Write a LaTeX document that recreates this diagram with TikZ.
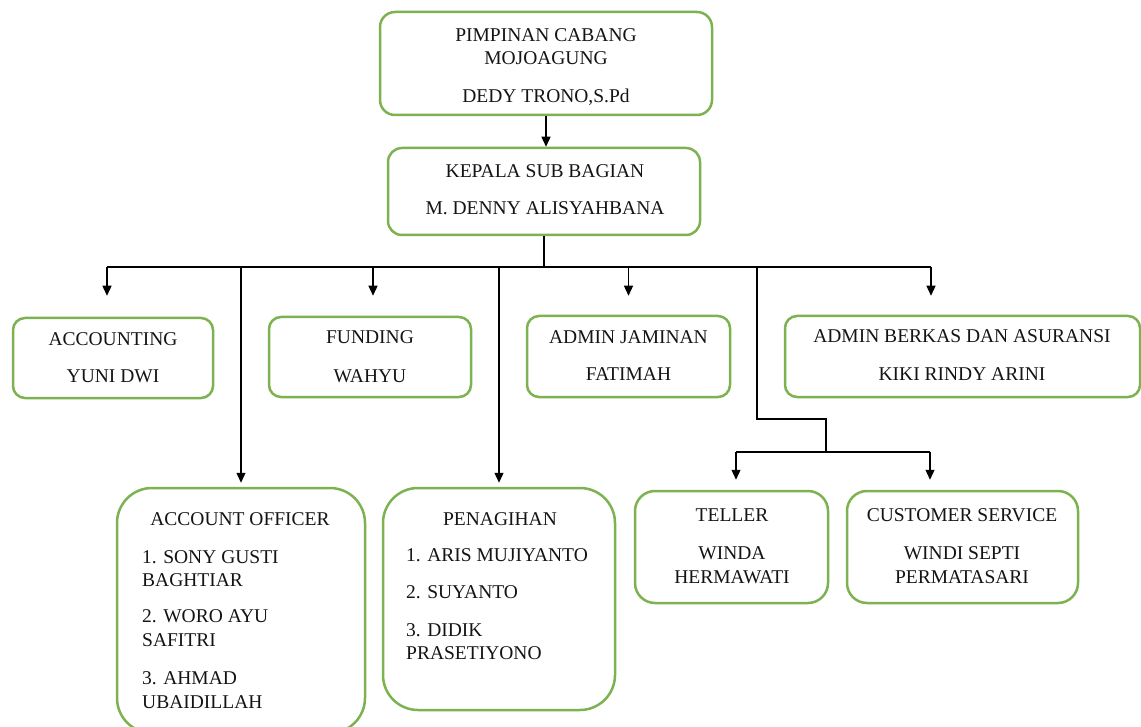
\documentclass[tikz,border=0pt]{standalone}
\usepackage{fontspec}
\setmainfont{Liberation Serif}
\usetikzlibrary{arrows.meta}
\definecolor{boxgreen}{RGB}{125,178,80}
\definecolor{txt}{RGB}{20,20,20}
\begin{document}
\begin{tikzpicture}[x=1pt,y=-1pt,
  orgbox/.style={draw=boxgreen, line width=2.5pt, rounded corners=#1, inner sep=0pt, fill=white},
  orgbox/.default=12pt,
  lbl/.style={font=\fontsize{19.5}{23}\selectfont, text=txt, inner sep=0pt, anchor=base},
  lbll/.style={lbl, anchor=base west},
  conn/.style={line width=1.3pt, draw=black},
  arr/.style={conn, -{Triangle[length=10pt,width=9pt]}}]
\useasboundingbox (0,0) rectangle (1141,727);

% boxes
\node[orgbox=15pt, minimum width=332pt, minimum height=103pt] (pim) at (546,63.5) {};
\node[orgbox=14pt, minimum width=312pt, minimum height=87pt] (kep) at (544,191.5) {};
\node[orgbox, minimum width=200pt, minimum height=80pt] (acc) at (113,358) {};
\node[orgbox, minimum width=202pt, minimum height=80pt] (fun) at (370,357) {};
\node[orgbox, minimum width=203pt, minimum height=81pt] (jam) at (628.5,356.5) {};
\node[orgbox, minimum width=355pt, minimum height=81pt] (ber) at (962.5,356.5) {};
\node[orgbox=35pt, minimum width=248pt, minimum height=245pt] (ao) at (241,610.5) {};
\node[orgbox=35pt, minimum width=232pt, minimum height=222pt] (pen) at (499,599) {};
\node[orgbox=20pt, minimum width=193pt, minimum height=112pt] (tel) at (731.5,547) {};
\node[orgbox=20pt, minimum width=231pt, minimum height=112pt] (cs) at (962.5,547) {};

% texts
\node[lbl] (pim1) at (546,42) {PIMPINAN CABANG};
\node[lbl] (pim2) at (546,65) {MOJOAGUNG};
\node[lbl] (pim3) at (546,103) {DEDY TRONO,S.Pd};
\node[lbl] (kep1) at (545,178) {KEPALA SUB BAGIAN};
\node[lbl] (kep2) at (545,215) {M. DENNY ALISYAHBANA};
\node[lbl] (acc1) at (113,346) {ACCOUNTING};
\node[lbl] (acc2) at (113,383) {YUNI DWI};
\node[lbl] (fun1) at (370,344) {FUNDING};
\node[lbl] (fun2) at (370,382) {WAHYU};
\node[lbl] (jam1) at (628.5,344) {ADMIN JAMINAN};
\node[lbl] (jam2) at (628.5,381) {FATIMAH};
\node[lbl] (ber1) at (962,343) {ADMIN BERKAS DAN ASURANSI};
\node[lbl] (ber2) at (962,381) {KIKI RINDY ARINI};
\node[lbl] (ao0) at (240,525) {ACCOUNT OFFICER};
\node[lbll] (ao1) at (142,563) {1. SONY GUSTI};
\node[lbll] (ao2) at (142,586) {BAGHTIAR};
\node[lbll] (ao3) at (142,622) {2. WORO AYU};
\node[lbll] (ao4) at (142,646) {SAFITRI};
\node[lbll] (ao5) at (142,684) {3. AHMAD};
\node[lbll] (ao6) at (142,708) {UBAIDILLAH};
\node[lbl] (pen0) at (500,525) {PENAGIHAN};
\node[lbll] (pen1) at (406,561) {1. ARIS MUJIYANTO};
\node[lbll] (pen2) at (406,598) {2. SUYANTO};
\node[lbll] (pen3) at (406,636) {3. DIDIK};
\node[lbll] (pen4) at (406,659) {PRASETIYONO};
\node[lbl] (tel1) at (732,521) {TELLER};
\node[lbl] (tel2) at (732,559) {WINDA};
\node[lbl] (tel3) at (732,583) {HERMAWATI};
\node[lbl] (cs1) at (962,521) {CUSTOMER SERVICE};
\node[lbl] (cs2) at (962,559) {WINDI SEPTI};
\node[lbl] (cs3) at (962,583) {PERMATASARI};

% connectors
\draw[arr] (pim.south) -- (pim.south |- kep.north);
\coordinate (bus) at (544,267);
\coordinate (accin) at ([xshift=-6pt]acc.north);
\coordinate (funin) at ([xshift=3pt]fun.north);
\coordinate (berin) at ([xshift=-31.5pt]ber.north);
\draw[conn] (kep.south) -- (bus);
\draw[conn] (accin |- bus) -- (berin |- bus);
\draw[arr, shorten >=21pt] (accin |- bus) -- (accin);
\draw[arr, shorten >=20pt] (funin |- bus) -- (funin);
\draw[arr, shorten >=19pt] (jam.north |- bus) -- (jam.north);
\draw[arr, shorten >=19pt] (berin |- bus) -- (berin);
\draw[arr, shorten >=4pt] (ao.north |- bus) -- (ao.north);
\draw[arr, shorten >=4pt] (pen.north |- bus) -- (pen.north);

\coordinate (tb1) at (757,267);
\coordinate (tbend) at (826,419);
\coordinate (tbus) at (826,452);
\coordinate (telin) at ([xshift=4.5pt]tel.north);
\coordinate (csin) at ([xshift=-32.5pt]cs.north);
\draw[conn] (tb1) |- (tbend) -- (tbus);
\draw[conn] (telin |- tbus) -- (csin |- tbus);
\draw[arr, shorten >=10pt] (telin |- tbus) -- (telin);
\draw[arr, shorten >=10pt] (csin |- tbus) -- (csin);
\end{tikzpicture}
\end{document}
